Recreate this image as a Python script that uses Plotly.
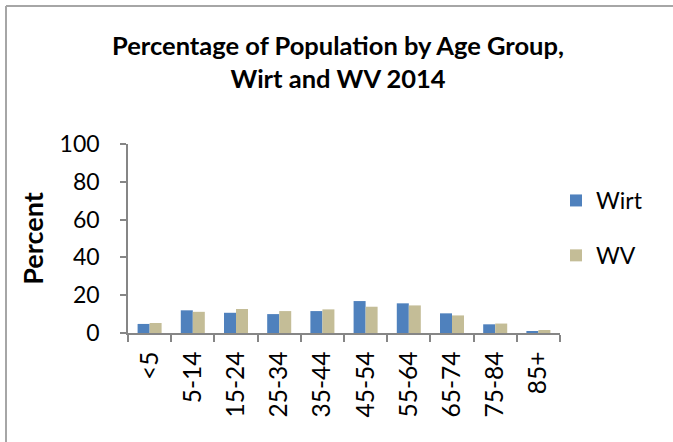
import plotly.graph_objects as go

categories = ["<5", "5-14", "15-24", "25-34", "35-44", "45-54", "55-64", "65-74", "75-84", "85+"]
wirt = [4.8, 12.0, 10.7, 10.0, 11.6, 16.9, 15.7, 10.4, 4.6, 0.9]
wv = [5.3, 11.2, 12.7, 11.6, 12.5, 13.9, 14.6, 9.3, 5.0, 1.6]
y_ticks = [0, 20, 40, 60, 80, 100]

FONT = "Lato"
W, H = 673, 442
L, R, T, B = 128, 560, 144, 333

fig = go.Figure()
fig.add_trace(go.Bar(x=categories, y=wirt, name="Wirt", marker=dict(color="#4F81BD", line=dict(width=0)),
                     legendgroup="a"))
fig.add_trace(go.Bar(x=categories, y=wv, name="WV", marker=dict(color="#C4BD97", line=dict(width=0)),
                     legendgroup="b"))

def px_x(p):
    return (p - L) / (R - L)

def px_y(p):
    return (B - p) / (B - T)

fig.update_layout(
    width=W, height=H,
    margin=dict(l=L, r=W - R, t=T, b=H - B, autoexpand=False),
    paper_bgcolor="white", plot_bgcolor="white",
    barmode="group", bargap=0.444, bargroupgap=0,
    font=dict(family=FONT, color="black"),
    title=dict(text="<b>Percentage of Population by Age Group,<br>Wirt and WV 2014</b>",
               xref="container", x=338 / W, xanchor="center",
               yref="container", y=1 - 55 / H, yanchor="middle",
               font=dict(size=25.5, family=FONT)),
    showlegend=True,
    legend=dict(x=px_x(556), y=px_y(179), xanchor="left", yanchor="top",
                font=dict(size=23, family=FONT), tracegroupgap=22,
                traceorder="grouped", bgcolor="rgba(0,0,0,0)", itemwidth=30),
    xaxis=dict(showline=True, linecolor="#868686", linewidth=1.5, ticks="outside",
               tickson="boundaries", ticklen=7, tickcolor="#868686", tickwidth=1.5,
               tickangle=-90, tickfont=dict(size=24.5, family=FONT), showgrid=False,
               zeroline=False, ticklabelstandoff=7),
    yaxis=dict(range=[0, 100], tickvals=y_ticks, showline=True, linecolor="#868686",
               linewidth=1.5, ticks="outside", ticklen=6, tickcolor="#868686", tickwidth=1.5,
               tickfont=dict(size=23, family=FONT), showgrid=False, zeroline=False,
               ticklabelstandoff=16,
               title=dict(text="<b>Percent</b>", font=dict(size=27, family=FONT), standoff=8)),
    shapes=[
        dict(type="line", xref="paper", yref="paper", x0=px_x(6), x1=px_x(6), y0=px_y(6), y1=px_y(450),
             line=dict(color="#A6A6A6", width=2)),
        dict(type="line", xref="paper", yref="paper", x0=px_x(6), x1=px_x(680), y0=px_y(6), y1=px_y(6),
             line=dict(color="#A6A6A6", width=2)),
    ],
)

fig.write_html("out.html", config={"displayModeBar": False},
               post_script="document.body.style.margin='0';document.body.style.overflow='hidden';")
